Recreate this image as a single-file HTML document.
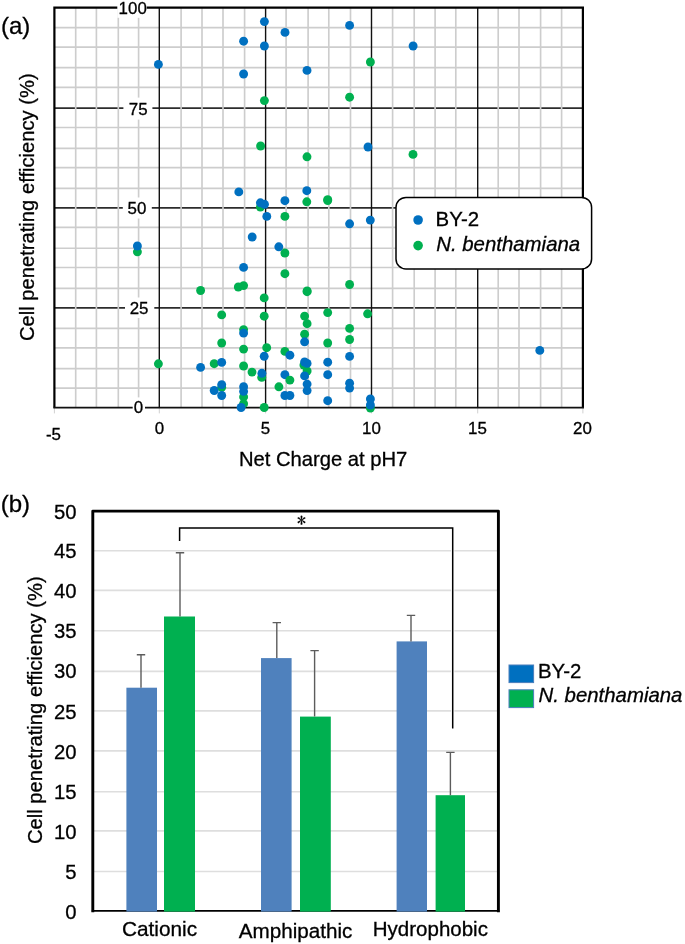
<!DOCTYPE html>
<html lang="en">
<head>
<meta charset="utf-8">
<title>Cell penetrating efficiency</title>
<style>
html,body{margin:0;padding:0;background:#fff;}
body{width:685px;height:944px;overflow:hidden;}
svg{display:block;}
text{font-family:"Liberation Sans",sans-serif;fill:#000;font-variant-ligatures:none;font-kerning:normal;stroke:#000;stroke-width:0.3px;}
.t16{font-size:16.9px;}
.t19{font-size:20.3px;}
.t20{font-size:20.4px;}
.t20b{font-size:20.2px;}
.t20c{font-size:20.75px;}
.t24{font-size:24px;}
.it{font-style:italic;}
.star{font-family:"IPAGothic","DejaVu Sans",sans-serif;font-size:18px;stroke-width:0.2px;}
</style>
</head>
<body>
<svg width="685" height="944" viewBox="0 0 685 944">
<rect width="685" height="944" fill="#fff"/>
<g id="scatter">
<g stroke="#cdcdcd" stroke-width="1.65">
<line x1="54.4" x2="582.9" y1="27.6" y2="27.6"/>
<line x1="54.4" x2="582.9" y1="47.1" y2="47.1"/>
<line x1="54.4" x2="582.9" y1="67.6" y2="67.6"/>
<line x1="54.4" x2="582.9" y1="87.3" y2="87.3"/>
<line x1="54.4" x2="582.9" y1="127.5" y2="127.5"/>
<line x1="54.4" x2="582.9" y1="148.4" y2="148.4"/>
<line x1="54.4" x2="582.9" y1="167.6" y2="167.6"/>
<line x1="54.4" x2="582.9" y1="188.4" y2="188.4"/>
<line x1="54.4" x2="582.9" y1="227.3" y2="227.3"/>
<line x1="54.4" x2="582.9" y1="248.2" y2="248.2"/>
<line x1="54.4" x2="582.9" y1="267.5" y2="267.5"/>
<line x1="54.4" x2="582.9" y1="288.4" y2="288.4"/>
<line x1="54.4" x2="582.9" y1="328.4" y2="328.4"/>
<line x1="54.4" x2="582.9" y1="347.8" y2="347.8"/>
<line x1="54.4" x2="582.9" y1="368.6" y2="368.6"/>
<line x1="54.4" x2="582.9" y1="388.1" y2="388.1"/>
</g>
<g stroke="#2c2c2c" stroke-width="1.75">
<line x1="54.4" x2="582.9" y1="307.8" y2="307.8"/>
<line x1="54.4" x2="582.9" y1="207.8" y2="207.8"/>
<line x1="54.4" x2="582.9" y1="108.0" y2="108.0"/>
</g>
<g stroke="#cdcdcd" stroke-width="1.65">
<line y1="7.6" y2="407.4" x1="75.7" x2="75.7"/>
<line y1="7.6" y2="407.4" x1="96.4" x2="96.4"/>
<line y1="7.6" y2="407.4" x1="118.3" x2="118.3"/>
<line y1="7.6" y2="407.4" x1="138.6" x2="138.6"/>
<line y1="7.6" y2="407.4" x1="181.1" x2="181.1"/>
<line y1="7.6" y2="407.4" x1="202.0" x2="202.0"/>
<line y1="7.6" y2="407.4" x1="223.0" x2="223.0"/>
<line y1="7.6" y2="407.4" x1="244.6" x2="244.6"/>
<line y1="7.6" y2="407.4" x1="286.1" x2="286.1"/>
<line y1="7.6" y2="407.4" x1="308.1" x2="308.1"/>
<line y1="7.6" y2="407.4" x1="328.8" x2="328.8"/>
<line y1="7.6" y2="407.4" x1="350.5" x2="350.5"/>
<line y1="7.6" y2="407.4" x1="392.6" x2="392.6"/>
<line y1="7.6" y2="407.4" x1="414.2" x2="414.2"/>
<line y1="7.6" y2="407.4" x1="435.1" x2="435.1"/>
<line y1="7.6" y2="407.4" x1="455.8" x2="455.8"/>
<line y1="7.6" y2="407.4" x1="498.2" x2="498.2"/>
<line y1="7.6" y2="407.4" x1="519.0" x2="519.0"/>
<line y1="7.6" y2="407.4" x1="540.6" x2="540.6"/>
<line y1="7.6" y2="407.4" x1="561.6" x2="561.6"/>
</g>
<g stroke="#d0d0d0" stroke-width="1">
<line y1="407.4" y2="413.4" x1="54.4" x2="54.4"/>
<line y1="407.4" y2="413.4" x1="159.3" x2="159.3"/>
<line y1="407.4" y2="413.4" x1="265.6" x2="265.6"/>
<line y1="407.4" y2="413.4" x1="371.5" x2="371.5"/>
<line y1="407.4" y2="413.4" x1="477.7" x2="477.7"/>
<line y1="407.4" y2="413.4" x1="582.9" x2="582.9"/>
</g>
<g stroke="#111" stroke-width="1.4">
<line y1="7.6" y2="407.4" x1="159.3" x2="159.3"/>
<line y1="7.6" y2="407.4" x1="265.6" x2="265.6"/>
<line y1="7.6" y2="407.4" x1="371.5" x2="371.5"/>
<line y1="7.6" y2="407.4" x1="477.7" x2="477.7"/>
</g>
<path d="M54.4 407.4V7.6H582.9V407.4" fill="none" stroke="#000" stroke-width="2.2" stroke-linejoin="miter"/>
<line x1="53.3" x2="584.0" y1="407.54999999999995" y2="407.54999999999995" stroke="#111" stroke-width="1.7"/>
<g fill="#fff">
<rect x="117.3" y="0" width="29.6" height="17.8"/>
<rect x="123.4" y="97.6" width="29" height="22"/>
<rect x="122.8" y="197.5" width="29" height="21"/>
<rect x="125" y="297.5" width="29.3" height="20.5"/>
<rect x="132.7" y="397.4" width="12.3" height="18"/>
</g>
<g fill="#00b050">
<circle cx="264.4" cy="100.6" r="4.45"/>
<circle cx="370.4" cy="62" r="4.45"/>
<circle cx="349.6" cy="97.2" r="4.45"/>
<circle cx="260.6" cy="146" r="4.45"/>
<circle cx="413.0" cy="154.4" r="4.45"/>
<circle cx="307" cy="156.8" r="4.45"/>
<circle cx="260.4" cy="207.1" r="4.45"/>
<circle cx="137.4" cy="251.8" r="4.45"/>
<circle cx="306.8" cy="201.8" r="4.45"/>
<circle cx="327.7" cy="199.6" r="4.45"/>
<circle cx="327.7" cy="200.5" r="4.45"/>
<circle cx="284.9" cy="216.4" r="4.45"/>
<circle cx="284.9" cy="253" r="4.45"/>
<circle cx="284.9" cy="273.7" r="4.45"/>
<circle cx="200.6" cy="290.5" r="4.45"/>
<circle cx="238.3" cy="287.0" r="4.45"/>
<circle cx="243.6" cy="285.6" r="4.45"/>
<circle cx="264.2" cy="297.9" r="4.45"/>
<circle cx="221.7" cy="314.9" r="4.45"/>
<circle cx="264.2" cy="316.2" r="4.45"/>
<circle cx="243.6" cy="329.6" r="4.45"/>
<circle cx="221.7" cy="343.0" r="4.45"/>
<circle cx="243.6" cy="349.1" r="4.45"/>
<circle cx="266.7" cy="347.7" r="4.45"/>
<circle cx="158.4" cy="363.8" r="4.45"/>
<circle cx="214.2" cy="363.7" r="4.45"/>
<circle cx="243.6" cy="366" r="4.45"/>
<circle cx="252" cy="372.1" r="4.45"/>
<circle cx="261.7" cy="377.4" r="4.45"/>
<circle cx="221.7" cy="387.3" r="4.45"/>
<circle cx="243.6" cy="396.9" r="4.45"/>
<circle cx="243.6" cy="403.7" r="4.45"/>
<circle cx="264.2" cy="407.5" r="4.45"/>
<circle cx="349.6" cy="284.5" r="4.45"/>
<circle cx="307.1" cy="290.9" r="4.45"/>
<circle cx="307.1" cy="291.7" r="4.45"/>
<circle cx="327.7" cy="312.6" r="4.45"/>
<circle cx="367.6" cy="313.8" r="4.45"/>
<circle cx="304.6" cy="316.1" r="4.45"/>
<circle cx="307.1" cy="323.7" r="4.45"/>
<circle cx="349.6" cy="328.4" r="4.45"/>
<circle cx="304.6" cy="334.2" r="4.45"/>
<circle cx="349.6" cy="339.5" r="4.45"/>
<circle cx="327.7" cy="343" r="4.45"/>
<circle cx="284.9" cy="351.4" r="4.45"/>
<circle cx="303.9" cy="365.1" r="4.45"/>
<circle cx="307.1" cy="371" r="4.45"/>
<circle cx="278.9" cy="386.8" r="4.45"/>
<circle cx="370.4" cy="408" r="4.45"/>
</g>
<g fill="#0070c0">
<circle cx="158.4" cy="64.4" r="4.45"/>
<circle cx="243.6" cy="41.2" r="4.45"/>
<circle cx="243.6" cy="74" r="4.45"/>
<circle cx="264.4" cy="21.6" r="4.45"/>
<circle cx="264.4" cy="46" r="4.45"/>
<circle cx="285" cy="32.4" r="4.45"/>
<circle cx="307" cy="70.4" r="4.45"/>
<circle cx="349.6" cy="25.4" r="4.45"/>
<circle cx="413.1" cy="46" r="4.45"/>
<circle cx="368" cy="147" r="4.45"/>
<circle cx="238.8" cy="191.9" r="4.45"/>
<circle cx="260.4" cy="202.8" r="4.45"/>
<circle cx="264.5" cy="204.3" r="4.45"/>
<circle cx="266.8" cy="216.4" r="4.45"/>
<circle cx="252.2" cy="237" r="4.45"/>
<circle cx="243.6" cy="267.4" r="4.45"/>
<circle cx="137.4" cy="246" r="4.45"/>
<circle cx="306.8" cy="190.7" r="4.45"/>
<circle cx="284.9" cy="200.7" r="4.45"/>
<circle cx="349.6" cy="223.8" r="4.45"/>
<circle cx="370.3" cy="220.1" r="4.45"/>
<circle cx="278.8" cy="246.8" r="4.45"/>
<circle cx="243.6" cy="333.1" r="4.45"/>
<circle cx="264.2" cy="356.3" r="4.45"/>
<circle cx="221.7" cy="362.4" r="4.45"/>
<circle cx="200.6" cy="367.4" r="4.45"/>
<circle cx="261.9" cy="373.3" r="4.45"/>
<circle cx="221.7" cy="384.6" r="4.45"/>
<circle cx="214.2" cy="390.5" r="4.45"/>
<circle cx="221.7" cy="395.5" r="4.45"/>
<circle cx="243.6" cy="386.7" r="4.45"/>
<circle cx="243.6" cy="391.4" r="4.45"/>
<circle cx="241.1" cy="407.5" r="4.45"/>
<circle cx="304.6" cy="341.8" r="4.45"/>
<circle cx="289.9" cy="355.2" r="4.45"/>
<circle cx="304.6" cy="362" r="4.45"/>
<circle cx="307.1" cy="363.4" r="4.45"/>
<circle cx="327.7" cy="362.2" r="4.45"/>
<circle cx="284.9" cy="374.7" r="4.45"/>
<circle cx="304.6" cy="375.9" r="4.45"/>
<circle cx="327.7" cy="374.7" r="4.45"/>
<circle cx="307.1" cy="384.1" r="4.45"/>
<circle cx="307.1" cy="390.6" r="4.45"/>
<circle cx="284.9" cy="395.5" r="4.45"/>
<circle cx="289.9" cy="395.5" r="4.45"/>
<circle cx="327.7" cy="400.7" r="4.45"/>
<circle cx="349.6" cy="356.4" r="4.45"/>
<circle cx="349.6" cy="383.2" r="4.45"/>
<circle cx="349.6" cy="388.1" r="4.45"/>
<circle cx="370.4" cy="399" r="4.45"/>
<circle cx="370.4" cy="405" r="4.45"/>
<circle cx="539.8" cy="350.4" r="4.45"/>
</g>
<g fill="#00b050">
<circle cx="289.9" cy="380.1" r="4.45"/>
</g>
<rect x="396" y="197.4" width="195.6" height="71.5" rx="10" fill="#fff" stroke="#000" stroke-width="1.5"/>
<circle cx="418.1" cy="220" r="4.8" fill="#0070c0"/>
<circle cx="418.1" cy="245.6" r="4.8" fill="#00b050"/>
<text class="t20" x="435.6" y="226.4">BY-2</text>
<text class="t20 it" x="436.2" y="251.3">N. benthamiana</text>
<g class="t16" text-anchor="end">
<text x="146.8" y="14.2">100</text>
<text x="147.6" y="115.3">75</text>
<text x="146.3" y="214.1">50</text>
<text x="148.5" y="313.9">25</text>
<text x="143.2" y="413.4">0</text>
</g>
<g class="t16" text-anchor="middle">
<text x="53.4" y="439.8">-5</text>
<text x="159.4" y="434.3">0</text>
<text x="265.4" y="434.3">5</text>
<text x="371.4" y="434.3">10</text>
<text x="477.4" y="434.3">15</text>
<text x="582.4" y="434.3">20</text>
</g>
<text class="t20b" x="239" y="466.4">Net Charge at pH7</text>
<text class="t20b" transform="translate(34.3 341.1) rotate(-90)">Cell penetrating efficiency (%)</text>
<text class="t24" x="0.9" y="34.1">(a)</text>
</g>
<g id="bars">
<g stroke="#dedede" stroke-width="1.6">
<line x1="92.8" x2="498.4" y1="871.5" y2="871.5"/>
<line x1="92.8" x2="498.4" y1="830.9" y2="830.9"/>
<line x1="92.8" x2="498.4" y1="791.75" y2="791.75"/>
<line x1="92.8" x2="498.4" y1="750.9" y2="750.9"/>
<line x1="92.8" x2="498.4" y1="710.9" y2="710.9"/>
<line x1="92.8" x2="498.4" y1="671.4" y2="671.4"/>
<line x1="92.8" x2="498.4" y1="630.8" y2="630.8"/>
<line x1="92.8" x2="498.4" y1="590.4" y2="590.4"/>
<line x1="92.8" x2="498.4" y1="550.8" y2="550.8"/>
</g>
<line x1="91.8" x2="499.4" y1="910.8" y2="910.8" stroke="#000" stroke-width="1.8"/>
<rect x="126.4" y="687.7" width="30.60" height="223.90" fill="#4f81bd"/>
<rect x="164.0" y="616.5" width="31.00" height="295.10" fill="#00b050"/>
<rect x="261.0" y="658.1" width="30.60" height="253.50" fill="#4f81bd"/>
<rect x="300.0" y="716.6" width="30.80" height="195.00" fill="#00b050"/>
<rect x="396.6" y="641.4" width="30.40" height="270.20" fill="#4f81bd"/>
<rect x="435.6" y="795.2" width="29.40" height="116.40" fill="#00b050"/>
<g stroke="#5c5c5c" stroke-width="1.4" fill="none">
<path d="M136.8 654.8H145.2M141 654.8V687.7"/>
<path d="M175.8 552.7H184.2M180 552.7V616.5"/>
<path d="M272.6 622.6H281.0M276.8 622.6V658.1"/>
<path d="M310.40000000000003 650.6H318.8M314.6 650.6V716.6"/>
<path d="M406.8 615.4H415.2M411 615.4V641.4"/>
<path d="M446.2 752.4H454.59999999999997M450.4 752.4V795.2"/>
</g>
<path d="M92.8 912.2V511.1H498.4V912.2" fill="none" stroke="#000" stroke-width="2.9" stroke-linejoin="round"/>
<path d="M179.6 541V528H452.7V728.4" fill="none" stroke="#fff" stroke-width="3.4"/>
<path d="M179.6 541V528H452.7V728.4" fill="none" stroke="#000" stroke-width="1.5"/>
<text class="star" x="301.5" y="527.1" text-anchor="middle">*</text>
<g class="t19" text-anchor="end">
<text x="76.6" y="919.4">0</text>
<text x="76.6" y="878.8">5</text>
<text x="76.6" y="838.8">10</text>
<text x="76.6" y="798.9">15</text>
<text x="76.6" y="758.8">20</text>
<text x="76.6" y="718.8">25</text>
<text x="76.6" y="678.4">30</text>
<text x="76.6" y="638.2">35</text>
<text x="76.6" y="598.2">40</text>
<text x="76.6" y="558.1">45</text>
<text x="76.6" y="518.6">50</text>
</g>
<g>
<text x="122.0" y="936.4" style="font-size:20.8px">Cationic</text>
<text x="238.8" y="937.5" style="font-size:20.65px">Amphipathic</text>
<text x="372.8" y="936.0" style="font-size:20.5px">Hydrophobic</text>
</g>
<text class="t20b" transform="translate(42.3 844.1) rotate(-90)">Cell penetrating efficiency (%)</text>
<text class="t24" x="0.7" y="511.6">(b)</text>
<rect x="509" y="665" width="24.6" height="17.6" fill="#0070c0" stroke="#4a7ebb" stroke-width="1"/>
<rect x="509" y="689.8" width="24.6" height="17.8" fill="#00b050" stroke="#4a7ebb" stroke-width="1"/>
<text class="t20" x="538" y="678.4">BY-2</text>
<text class="t20 it" x="538.5" y="702">N. benthamiana</text>
</g>
</svg>
</body>
</html>
